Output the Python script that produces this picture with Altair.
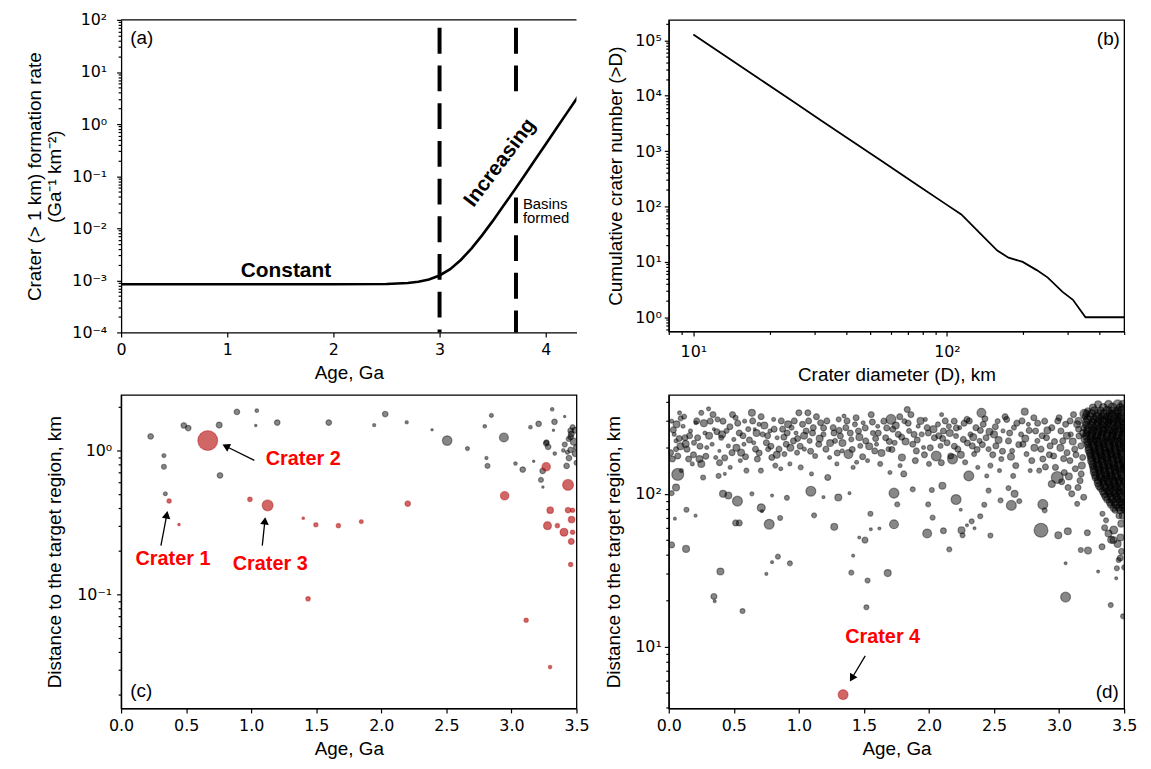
import altair as alt
import pandas as pd

# ---------------- Panel (a): crater formation rate ----------------
a_age = [0.0, 0.5, 1.0, 1.5, 2.0, 2.5, 2.7, 2.8, 2.9, 3.0, 3.1, 3.2, 3.3, 3.4, 3.5,
         3.6, 3.7, 3.8, 3.9, 4.0, 4.1, 4.2, 4.3, 4.4]
a_rate = [8.4e-4, 8.4e-4, 8.4e-4, 8.4e-4, 8.4e-4, 8.5e-4, 8.9e-4, 9.4e-4, 1.04e-3,
          1.24e-3, 1.64e-3, 2.46e-3, 4.07e-3, 7.3e-3, 1.37e-2, 2.66e-2, 5.2e-2,
          0.103, 0.206, 0.411, 0.82, 1.64, 3.27, 6.5]
a_dash_age = [3.0, 3.72]
a_dash_top = [100, 100]
a_dash_bot = [1e-4, 3.56]
a_dash2_age = [3.72]
a_dash2_top = [0.039]
a_dash2_bot = [1e-4]
a_lbl_text = ["Constant", "Increasing", "Basins", "formed", "(a)"]
a_lbl_age = [1.553, 3.571, 3.785, 3.785, 0.087]
a_lbl_rate = [1.52e-3, 0.181, 0.0287, 0.0155, 45]

# ---------------- Panel (b): cumulative crater number ----------------
b_diam = [10, 17.7, 24.5, 31.8, 41.3, 55.5, 76.9, 100, 114, 134, 158, 175, 199,
          226, 250, 285, 314, 352, 500]
b_num = [1.28e5, 2.2e4, 8.1e3, 3.6e3, 1.62e3, 653, 239, 107, 72, 34, 16, 11.9, 10,
         7.1, 5.2, 2.9, 2.07, 1, 1]

# ---------------- Panel (c): (age, distance km, marker radius) ----------------
c_gray = [
    (0.227, 1.25, 2.8), (0.329, 0.92, 2), (0.329, 0.77, 2.5), (0.34, 0.50, 2),
    (0.482, 1.49, 2.8), (0.516, 1.43, 2.8), (0.754, 1.50, 3), (0.76, 0.67, 2.8),
    (0.89, 1.85, 2.8), (1.035, 1.49, 1.2), (1.043, 1.89, 1.8), (1.2, 1.56, 2.8),
    (1.596, 1.56, 2.8), (1.945, 1.50, 1.6), (2.03, 1.79, 2.8), (2.195, 1.57, 1.6),
    (2.39, 1.39, 1.2), (2.506, 1.17, 4.8), (2.662, 1.03, 2), (2.846, 1.75, 2),
    (2.795, 1.47, 1.8), (2.942, 1.23, 4.5), (2.808, 0.885, 1.6), (2.816, 0.78, 2.5),
    (3.031, 0.81, 1.8), (3.087, 0.736, 2.8), (3.171, 0.84, 1.2), (3.146, 1.45, 1.8),
    (3.209, 1.53, 2.8), (3.313, 1.93, 1.8), (3.331, 1.58, 2.8), (3.323, 1.38, 1.2),
    (3.409, 1.72, 1.2), (3.455, 1.37, 2.8), (3.455, 1.24, 2.8), (3.267, 1.12, 2.8),
    (3.282, 1.06, 2.8), (3.333, 0.95, 1.8), (3.399, 1.0, 1.8), (3.455, 1.01, 2.8),
    (3.424, 0.78, 2.8), (3.442, 0.885, 2.8), (3.227, 0.624, 2.5), (3.242, 0.556, 1.2),
    (3.24, 0.72, 2.8), (3.46, 1.3, 3), (3.48, 1.15, 3.5), (3.5, 1.05, 3),
    (3.44, 1.2, 2.5), (3.49, 0.95, 3), (3.47, 1.45, 2.5), (3.43, 0.97, 2),
    (3.27, 1.14, 2.5), (3.49, 1.38, 3), (3.41, 1.1, 2.5), (3.5, 0.82, 2.5),
]
c_red = [
    (0.369, 0.445, 2.2), (0.445, 0.305, 1.3), (0.666, 1.17, 10), (0.99, 0.457, 2.3),
    (1.126, 0.415, 5.5), (1.40, 0.338, 1.3), (1.497, 0.304, 2.2), (1.67, 0.30, 2.2),
    (1.846, 0.32, 2), (2.203, 0.426, 2.8), (1.437, 0.093, 2.3), (3.113, 0.066, 2.2),
    (3.297, 0.0312, 1.8), (2.948, 0.484, 4.3), (3.267, 0.77, 4.3), (3.435, 0.576, 5.5),
    (3.298, 0.384, 3.3), (3.435, 0.384, 2.8), (3.47, 0.384, 2.2), (3.462, 0.331, 3.3),
    (3.277, 0.30, 4), (3.353, 0.30, 2.2), (3.404, 0.27, 4), (3.47, 0.27, 2.2),
    (3.46, 0.233, 3), (3.455, 0.161, 2.2),
]
c_lbl_text = ["Crater 1", "Crater 2", "Crater 3", "(c)"]
c_lbl_age = [0.399, 1.40, 1.146, 0.071]
c_lbl_dist = [0.177, 0.867, 0.161, 0.0214]
c_arrow_tail_age = [0.306, 1.024, 1.085]
c_arrow_tail_dist = [0.218, 0.853, 0.218]
c_arrow_head_age = [0.351, 0.805, 1.105]
c_arrow_head_dist = [0.357, 1.069, 0.324]
c_arrow_angle = [10.7, 296.3, 5.9]

# ---------------- Panel (d): (age, distance km, marker radius) ----------------
d_sparse = [
    (0.069, 134, 6), (0.056, 110, 3.5), (0.022, 101, 2.5), (0.022, 46.3, 3), (0.133, 43.6, 3.5),
    (0.136, 78.7, 2.5), (0.206, 72, 1.5), (0.047, 68.8, 1.5), (0.397, 31, 3.5), (0.347, 21.3, 3),
    (0.353, 19.8, 1.5), (0.567, 17.1, 2.5), (0.417, 100, 3.5), (0.458, 97.6, 3.5), (0.528, 89.6, 5),
    (0.514, 64.5, 3), (0.542, 64.5, 3), (0.639, 100, 2), (0.711, 81, 4), (0.716, 77, 1.5),
    (0.772, 63.2, 5), (0.794, 97.4, 1.5), (0.856, 69.5, 2.5), (0.839, 38.8, 2.5), (0.794, 35.7, 1.5),
    (0.931, 35.1, 2.5), (0.75, 29.9, 1.5), (0.908, 94.2, 2.5), (1.092, 104, 5), (1.117, 72.3, 2.5),
    (1.189, 95.1, 1.5), (1.303, 94.6, 3.5), (1.272, 60.8, 3.5), (1.389, 101, 1.5), (1.417, 39.4, 1.5),
    (1.403, 30.5, 2.5), (1.464, 51.8, 1.5), (1.508, 49.8, 3), (1.528, 27.1, 2.5), (1.519, 18.1, 2.5),
    (1.55, 74.1, 2.5), (1.553, 58.6, 1.5), (1.619, 59.3, 1.5), (1.683, 30.3, 3.5), (1.731, 63.2, 4.5),
    (1.731, 101, 5), (1.756, 85.3, 2.5), (1.875, 107, 2.5), (1.986, 55, 4.5), (1.994, 85.3, 2.5),
    (2.022, 106, 2.5), (2.028, 69.8, 2.5), (2.111, 57.3, 3), (2.156, 43.3, 2.5), (2.103, 113, 3.5),
    (2.208, 91.8, 5), (2.25, 57.8, 3.5), (2.258, 53.6, 2.5), (2.244, 78.7, 1.5), (2.292, 62.2, 1.5),
    (2.328, 66.1, 2.5), (2.35, 59.5, 1.5), (2.394, 71.3, 2.5), (2.425, 84.9, 2.5), (2.472, 53.4, 2.5),
    (2.458, 105, 2.5), (2.55, 90.6, 2.5), (2.633, 84, 5), (2.658, 100, 3.5), (2.694, 89.6, 2.5),
    (2.611, 109, 2.5), (2.861, 57.8, 7), (2.875, 85.3, 5), (2.889, 78, 2.5), (2.994, 53.6, 3.5),
    (3.067, 56.9, 3.5), (3.05, 35.1, 1.5), (3.05, 21.1, 5), (3.217, 55.6, 3), (3.167, 42.9, 2.5),
    (3.222, 42.5, 3.5), (3.3, 31, 1.5), (3.397, 18.7, 2.5), (3.492, 15.8, 2.5), (3.439, 28, 1.5),
    (3.444, 32.6, 2.5), (3.458, 36.9, 2.5), (3.417, 49.8, 3.5), (3.472, 51.8, 3.5), (3.361, 67.1, 2.5),
    (3.333, 74.1, 2.5), (3.478, 63.8, 3.5), (3.35, 60, 3), (3.38, 55, 3.5), (3.42, 58, 4),
    (3.45, 47, 3.5), (3.48, 42, 3), (3.47, 38, 3), (3.33, 45, 3), (3.40, 50, 3.5), (3.5, 33, 2.5),
]
d_band = [
    (0.014, 186, 3), (0.028, 169, 3), (0.056, 196, 2.5), (0.069, 177, 3), (0.083, 339, 2),
    (0.092, 312, 2.5), (0.042, 245, 2), (0.097, 142, 2), (0.056, 222, 2), (0.022, 299, 2),
    (0.11, 277, 2), (0.125, 233, 3), (0.14, 196, 3), (0.153, 169, 3), (0.167, 258, 2),
    (0.194, 216, 2.5), (0.181, 157, 2), (0.208, 292, 2),
    (0.222, 233, 3), (0.236, 169, 3.5), (0.25, 157, 3.5), (0.264, 128, 2.5), (0.25, 339, 2.5),
    (0.278, 250, 2), (0.292, 201, 2), (0.306, 360, 2),
    (0.319, 299, 3), (0.333, 211, 2), (0.361, 173, 2), (0.375, 307, 2.5), (0.383, 131, 2.5),
    (0.403, 233, 2.5), (0.347, 265, 1.5), (0.389, 191, 1.5),
    (0.417, 299, 3), (0.444, 258, 2.5), (0.458, 206, 2), (0.486, 186, 3), (0.5, 227, 2),
    (0.472, 149, 2), (0.514, 315, 2.5), (0.431, 135, 1.5),
    (0.542, 250, 3), (0.556, 186, 3.5), (0.578, 211, 2), (0.597, 142, 2.5), (0.611, 265, 2.5),
    (0.583, 299, 2), (0.55, 165, 2),
    (0.639, 339, 3.5), (0.653, 216, 2), (0.667, 196, 3), (0.681, 169, 3), (0.694, 285, 2),
    (0.708, 142, 2.5), (0.722, 245, 2.5), (0.661, 265, 1.5),
    (0.75, 216, 3), (0.764, 196, 2.5), (0.778, 258, 2), (0.792, 173, 3), (0.806, 307, 2),
    (0.819, 153, 2.5), (0.833, 233, 2),
    (0.847, 196, 3), (0.875, 265, 3), (0.889, 182, 2.5), (0.903, 211, 3), (0.917, 285, 3.5),
    (0.861, 146, 2), (0.931, 157, 2),
    (0.944, 271, 2.5), (0.958, 222, 3), (0.978, 250, 2), (1.0, 339, 3), (0.986, 186, 2.5),
    (1.014, 149, 2.5), (1.028, 285, 3),
    (1.069, 339, 3), (1.056, 258, 3), (1.083, 222, 2.5), (1.111, 271, 3), (1.125, 177, 2.5),
    (1.097, 135, 2), (1.042, 196, 2),
    (1.153, 211, 3), (1.167, 292, 3), (1.189, 245, 2.5), (1.208, 196, 3), (1.222, 128, 3),
    (1.236, 173, 2),
    (1.264, 271, 3), (1.278, 222, 2.5), (1.292, 157, 2), (1.306, 307, 2.5), (1.319, 239, 3),
    (1.333, 191, 2),
    (1.347, 323, 2), (1.361, 271, 3), (1.381, 182, 4.5), (1.403, 227, 2.5), (1.417, 149, 2),
    (1.431, 285, 2.5),
    (1.458, 258, 3), (1.472, 206, 2.5), (1.494, 292, 2), (1.514, 222, 3), (1.528, 165, 2),
    (1.444, 161, 2),
    (1.556, 330, 3), (1.569, 250, 2.5), (1.583, 191, 3), (1.606, 277, 2), (1.625, 157, 2.5),
    (1.597, 211, 2),
    (1.653, 299, 3), (1.667, 233, 3), (1.689, 196, 2.5), (1.708, 307, 5), (1.722, 265, 3),
    (1.7, 138, 2),
    (1.736, 216, 2.5), (1.764, 245, 3), (1.792, 173, 3.5), (1.806, 135, 3), (1.778, 153, 2),
    (1.811, 299, 2.5),
    (1.833, 356, 3), (1.861, 330, 3), (1.847, 258, 2.5), (1.875, 211, 3), (1.903, 191, 3),
    (1.917, 277, 2),
    (1.944, 245, 2.5), (1.958, 201, 2), (1.986, 271, 3), (2.0, 157, 2.5), (1.972, 307, 2),
    (2.042, 233, 3), (2.056, 177, 5), (2.069, 285, 2.5), (2.089, 206, 2.5), (2.111, 258, 3),
    (2.097, 330, 2),
    (2.139, 216, 3), (2.153, 277, 2.5), (2.167, 177, 3), (2.181, 169, 5), (2.194, 299, 3),
    (2.208, 239, 2.5),
    (2.222, 196, 3), (2.236, 271, 2), (2.264, 227, 3), (2.292, 307, 3), (2.306, 131, 5),
    (2.278, 161, 2.5),
    (2.319, 245, 2.5), (2.333, 206, 3), (2.347, 182, 2.5), (2.361, 271, 3), (2.375, 149, 2),
    (2.389, 222, 2.5),
    (2.403, 339, 4.5), (2.417, 285, 3), (2.439, 233, 3), (2.458, 196, 2.5), (2.472, 153, 2.5),
    (2.444, 131, 2),
    (2.5, 245, 3.5), (2.514, 206, 3), (2.528, 299, 2.5), (2.556, 169, 2.5), (2.569, 258, 2),
    (2.542, 142, 2),
    (2.597, 307, 3), (2.611, 222, 3), (2.639, 191, 2.5), (2.653, 271, 2.5), (2.667, 153, 3),
    (2.647, 131, 2.5),
    (2.736, 345, 3.5), (2.708, 245, 2.5), (2.722, 211, 3), (2.75, 182, 2.5), (2.764, 285, 2),
    (2.778, 142, 2),
    (2.806, 315, 3), (2.819, 258, 3), (2.833, 222, 2.5), (2.861, 196, 3), (2.875, 169, 3),
    (2.847, 142, 2.5),
    (2.889, 299, 3), (2.903, 233, 3), (2.931, 206, 3), (2.944, 271, 3), (2.958, 177, 3),
    (2.986, 128, 6), (2.944, 116, 3.5), (2.972, 149, 3),
    (3.0, 315, 3), (3.014, 258, 3), (3.028, 222, 3), (3.05, 285, 3), (3.061, 186, 3),
    (3.083, 165, 3), (3.069, 110, 3), (3.097, 100, 3), (3.04, 138, 3), (3.09, 245, 2.5),
    (3.111, 330, 3), (3.139, 285, 3.5), (3.153, 239, 3), (3.167, 206, 3), (3.181, 173, 3),
    (3.194, 334, 4.5), (3.125, 146, 3), (3.161, 122, 3), (3.189, 95, 3), (3.139, 86, 2.5),
    (3.12, 196, 3), (3.175, 153, 3.5), (3.15, 265, 3),
]
d_band_more = [
    (0.035, 262, 3), (0.06, 285, 3.5), (0.08, 230, 3), (0.09, 205, 3.5),
    (0.118, 320, 2.5), (0.13, 212, 3.5), (0.16, 240, 3), (0.19, 180, 3),
    (0.215, 300, 3), (0.24, 205, 3), (0.27, 290, 3.5), (0.285, 176, 3),
    (0.31, 240, 3.5), (0.34, 330, 3), (0.37, 255, 3), (0.39, 160, 3),
    (0.41, 245, 3.5), (0.43, 172, 3), (0.47, 275, 3), (0.49, 330, 3),
    (0.52, 200, 3.5), (0.53, 290, 3), (0.57, 240, 3), (0.59, 175, 3),
    (0.62, 225, 3), (0.645, 300, 3), (0.675, 250, 3.5), (0.695, 185, 3),
    (0.71, 320, 3), (0.735, 280, 3.5), (0.76, 240, 3), (0.785, 205, 3),
    (0.81, 265, 3), (0.83, 180, 3.5), (0.865, 300, 3), (0.885, 235, 3),
    (0.91, 250, 3), (0.935, 200, 3.5), (0.965, 300, 3), (0.99, 230, 3),
    (1.01, 205, 3), (1.04, 240, 3.5), (1.075, 300, 3), (1.09, 190, 3),
    (1.105, 250, 3), (1.135, 320, 3), (1.16, 230, 3.5), (1.19, 270, 3),
    (1.215, 300, 3), (1.24, 215, 3.5), (1.27, 250, 3), (1.295, 185, 3),
    (1.31, 260, 3), (1.335, 215, 3.5), (1.37, 300, 3), (1.395, 250, 3),
    (1.41, 195, 3), (1.44, 315, 3), (1.465, 235, 3.5), (1.49, 175, 3),
    (1.51, 270, 3), (1.54, 205, 3.5), (1.565, 295, 3), (1.59, 230, 3),
    (1.61, 250, 3), (1.635, 185, 3.5), (1.675, 270, 3), (1.695, 220, 3),
    (1.715, 195, 3), (1.745, 280, 3.5), (1.775, 320, 3), (1.79, 235, 3),
    (1.82, 220, 3.5), (1.84, 290, 3), (1.885, 245, 3), (1.895, 165, 3),
    (1.91, 225, 3), (1.935, 300, 3.5), (1.965, 180, 3), (1.995, 250, 3),
    (2.01, 200, 3), (2.035, 265, 3.5), (2.075, 240, 3), (2.095, 160, 3),
    (2.105, 230, 3), (2.125, 300, 3), (2.16, 250, 3.5), (2.195, 205, 3),
    (2.21, 270, 3), (2.245, 180, 3.5), (2.27, 290, 3), (2.295, 215, 3),
    (2.31, 300, 3), (2.34, 235, 3.5), (2.37, 195, 3), (2.395, 260, 3),
    (2.41, 210, 3), (2.43, 310, 3), (2.465, 255, 3.5), (2.49, 180, 3),
    (2.51, 275, 3), (2.535, 225, 3.5), (2.565, 190, 3), (2.585, 320, 3),
    (2.62, 250, 3), (2.63, 175, 3.5), (2.675, 290, 3), (2.69, 210, 3),
    (2.715, 300, 3), (2.74, 230, 3.5), (2.77, 260, 3), (2.79, 165, 3),
    (2.81, 200, 3.5), (2.835, 290, 3), (2.87, 240, 3), (2.895, 150, 3),
    (2.91, 260, 3.5), (2.925, 180, 3), (2.965, 220, 3), (2.99, 300, 3),
    (3.01, 200, 3.5), (3.035, 170, 3), (3.06, 240, 3.5), (3.085, 300, 3), (3.02, 120, 3),
    (3.075, 130, 3.5),
    (3.105, 220, 3.5), (3.13, 180, 3), (3.15, 300, 3.5), (3.17, 135, 3), (3.185, 250, 3.5),
    (3.145, 110, 3),
]
d_cluster = [
    (3.30, 385, 3.5), (3.38, 385, 4), (3.45, 385, 4.5), (3.49, 385, 4),
    (3.22, 350, 3), (3.27, 350, 4), (3.32, 350, 3.5), (3.37, 350, 4.5), (3.41, 350, 3.5),
    (3.45, 350, 4), (3.49, 350, 5),
    (3.20, 320, 3), (3.24, 320, 4), (3.29, 320, 4.5), (3.33, 320, 3.5), (3.37, 320, 4),
    (3.41, 320, 5), (3.45, 320, 3.5), (3.48, 320, 4),
    (3.21, 295, 4), (3.26, 295, 3.5), (3.30, 295, 4), (3.34, 295, 5), (3.38, 295, 3.5),
    (3.42, 295, 4), (3.46, 295, 4.5), (3.49, 295, 3.5),
    (3.19, 270, 3), (3.23, 270, 4.5), (3.27, 270, 3.5), (3.31, 270, 4), (3.35, 270, 4),
    (3.39, 270, 5), (3.43, 270, 3.5), (3.47, 270, 4), (3.50, 270, 4),
    (3.21, 248, 3.5), (3.25, 248, 4), (3.29, 248, 5), (3.33, 248, 3.5), (3.37, 248, 4),
    (3.41, 248, 4), (3.45, 248, 5), (3.49, 248, 3.5),
    (3.20, 228, 4), (3.24, 228, 3.5), (3.28, 228, 4), (3.32, 228, 4.5), (3.36, 228, 3.5),
    (3.40, 228, 4), (3.44, 228, 4.5), (3.48, 228, 4),
    (3.22, 210, 3.5), (3.26, 210, 4.5), (3.30, 210, 4), (3.34, 210, 3.5), (3.38, 210, 5),
    (3.42, 210, 4), (3.46, 210, 3.5), (3.50, 210, 4.5),
    (3.23, 193, 4), (3.27, 193, 3.5), (3.31, 193, 4.5), (3.35, 193, 4), (3.39, 193, 3.5),
    (3.43, 193, 4.5), (3.47, 193, 4),
    (3.24, 178, 3.5), (3.28, 178, 4), (3.32, 178, 3.5), (3.36, 178, 5), (3.40, 178, 4),
    (3.44, 178, 3.5), (3.48, 178, 4.5),
    (3.25, 164, 4), (3.29, 164, 3.5), (3.33, 164, 4), (3.37, 164, 4), (3.41, 164, 4.5),
    (3.45, 164, 3.5), (3.49, 164, 4),
    (3.26, 151, 3.5), (3.30, 151, 4.5), (3.34, 151, 4), (3.38, 151, 3.5), (3.42, 151, 4),
    (3.46, 151, 5), (3.50, 151, 3.5),
    (3.27, 139, 4), (3.31, 139, 3.5), (3.35, 139, 4.5), (3.39, 139, 4), (3.43, 139, 3.5),
    (3.47, 139, 4),
    (3.28, 128, 3.5), (3.32, 128, 4), (3.36, 128, 4), (3.40, 128, 4.5), (3.44, 128, 4),
    (3.48, 128, 3.5),
    (3.30, 118, 4), (3.34, 118, 3.5), (3.38, 118, 4), (3.42, 118, 4.5), (3.46, 118, 4),
    (3.50, 118, 4),
    (3.32, 109, 3.5), (3.36, 109, 4), (3.40, 109, 3.5), (3.44, 109, 4.5), (3.48, 109, 4),
    (3.35, 100, 4), (3.39, 100, 3.5), (3.43, 100, 4), (3.47, 100, 4.5),
    (3.37, 92, 3.5), (3.41, 92, 4), (3.45, 92, 3.5), (3.49, 92, 4),
    (3.40, 85, 3.5), (3.44, 85, 4), (3.48, 85, 3.5),
    (3.43, 78, 3), (3.47, 78, 3.5), (3.50, 78, 3),
    (3.46, 72, 3), (3.49, 72, 3.5),
]
d_cluster_more = [
    (3.26, 367, 3.5), (3.34, 367, 4), (3.41, 367, 4.5), (3.47, 367, 4),
    (3.21, 335, 3.5), (3.25, 335, 4), (3.30, 335, 4), (3.35, 335, 4.5), (3.39, 335, 4),
    (3.43, 335, 4), (3.47, 335, 4.5),
    (3.22, 307, 4), (3.27, 307, 4), (3.31, 307, 4.5), (3.35, 307, 4), (3.39, 307, 4),
    (3.43, 307, 4.5), (3.47, 307, 4),
    (3.21, 282, 4), (3.25, 282, 4), (3.29, 282, 4.5), (3.33, 282, 4), (3.37, 282, 4),
    (3.41, 282, 4.5), (3.45, 282, 4), (3.49, 282, 4),
    (3.22, 259, 4), (3.26, 259, 4.5), (3.30, 259, 4), (3.34, 259, 4), (3.38, 259, 4.5),
    (3.42, 259, 4), (3.46, 259, 4), (3.50, 259, 4),
    (3.21, 238, 4), (3.25, 238, 4), (3.29, 238, 4), (3.33, 238, 4.5), (3.37, 238, 4),
    (3.41, 238, 4), (3.45, 238, 4.5), (3.49, 238, 4),
    (3.22, 219, 4), (3.26, 219, 4), (3.30, 219, 4.5), (3.34, 219, 4), (3.38, 219, 4),
    (3.42, 219, 4.5), (3.46, 219, 4), (3.50, 219, 4),
    (3.23, 201, 4), (3.27, 201, 4.5), (3.31, 201, 4), (3.35, 201, 4), (3.39, 201, 4.5),
    (3.43, 201, 4), (3.47, 201, 4), (3.50, 201, 4),
    (3.24, 185, 4), (3.28, 185, 4), (3.32, 185, 4.5), (3.36, 185, 4), (3.40, 185, 4),
    (3.44, 185, 4.5), (3.48, 185, 4),
    (3.25, 171, 4), (3.29, 171, 4.5), (3.33, 171, 4), (3.37, 171, 4), (3.41, 171, 4),
    (3.45, 171, 4.5), (3.49, 171, 4),
    (3.26, 157, 4), (3.30, 157, 4), (3.34, 157, 4.5), (3.38, 157, 4), (3.42, 157, 4),
    (3.46, 157, 4), (3.50, 157, 4.5),
    (3.27, 145, 4), (3.31, 145, 4), (3.35, 145, 4), (3.39, 145, 4.5), (3.43, 145, 4),
    (3.47, 145, 4), (3.50, 145, 4),
    (3.28, 133, 4), (3.32, 133, 4.5), (3.36, 133, 4), (3.40, 133, 4), (3.44, 133, 4.5),
    (3.48, 133, 4),
    (3.30, 123, 4), (3.34, 123, 4), (3.38, 123, 4.5), (3.42, 123, 4), (3.46, 123, 4),
    (3.50, 123, 4),
    (3.31, 113, 4), (3.35, 113, 4.5), (3.39, 113, 4), (3.43, 113, 4), (3.47, 113, 4.5),
    (3.34, 104, 4), (3.38, 104, 4), (3.42, 104, 4.5), (3.46, 104, 4), (3.50, 104, 4),
    (3.36, 96, 4), (3.40, 96, 4), (3.44, 96, 4), (3.48, 96, 4),
    (3.39, 88, 3.5), (3.43, 88, 4), (3.47, 88, 4), (3.50, 88, 3.5),
    (3.42, 81, 3.5), (3.46, 81, 3.5), (3.49, 81, 3.5),
]
d_red = [(1.34, 4.85, 5)]
d_lbl_text = ["Crater 4", "(d)"]
d_lbl_age = [1.644, 3.458]
d_lbl_dist = [11.6, 5.08]
d_arrow_tail_age = [1.51]
d_arrow_tail_dist = [8.7]
d_arrow_head_age = [1.407]
d_arrow_head_dist = [6.21]
d_arrow_angle = [211]

# ---------------- helpers ----------------
SUP = str.maketrans("-0123456789", "⁻⁰¹²³⁴⁵⁶⁷⁸⁹")
DECADE = "abs(log(datum.value)/LN10 - round(log(datum.value)/LN10)) < 0.001"


def log_axis(title, exps, lo, hi, label_pad=4, title_pad=8, **kw):
    vals = []
    for e in range(exps[0] - 1, exps[-1] + 1):
        for m in range(1, 10):
            v = float(f"{m}e{e}")
            if lo <= v <= hi:
                vals.append(v)
    expr = "''"
    for e in exps:
        v = float(f"1e{e}")
        expr = f"abs(datum.value - {v!r}) < {v * 1e-3!r} ? '10{str(e).translate(SUP)}' : {expr}"
    return alt.Axis(title=title, values=vals, labelExpr=expr, labelOverlap=False,
                    labelFlush=False,
                    tickSize={"condition": {"test": DECADE, "value": 4.5}, "value": 3},
                    labelPadding=label_pad, titlePadding=title_pad, **kw)


def lin_axis(title, vals, fmt, label_pad=5, title_pad=6):
    return alt.Axis(title=title, values=vals, format=fmt, tickSize=4.5, labelFlush=False,
                    labelOverlap=False, labelPadding=label_pad, titlePadding=title_pad)


SIZE = alt.Size("r:Q", scale=alt.Scale(type="pow", exponent=2, domain=[0, 10], range=[0, 400]),
                legend=None)
GRAY = dict(fill="black", fillOpacity=0.47, stroke="black", strokeOpacity=0.4, strokeWidth=1.2,
            clip=True)
RED = dict(fill="#b00000", fillOpacity=0.6, stroke="#b00000", strokeOpacity=0.4, strokeWidth=1.2,
           clip=True)

# ---------------- Panel (a) ----------------
xa = alt.Scale(domain=[0, 4.29])
ya = alt.Scale(type="log", domain=[1e-4, 100])
df_a = pd.DataFrame({"age": a_age, "rate": a_rate})
df_dash = pd.DataFrame({"age": a_dash_age, "rate": a_dash_top, "rate2": a_dash_bot})
df_dash2 = pd.DataFrame({"age": a_dash2_age, "rate": a_dash2_top, "rate2": a_dash2_bot})
df_alab = pd.DataFrame({"age": a_lbl_age, "rate": a_lbl_rate, "t": a_lbl_text})

ax_a_x = lin_axis("Age, Ga", [0, 1, 2, 3, 4], "d")
ax_a_y = log_axis(["Crater (> 1 km) formation rate", "(Ga⁻¹ km⁻²)"], list(range(-4, 3)),
                  1e-4, 100, label_pad=10, title_pad=7)

XA = lambda: alt.X("age:Q", scale=xa)
YA = lambda: alt.Y("rate:Q", scale=ya)

a_line = alt.Chart(df_a).mark_line(color="black", strokeWidth=2.6, clip=True).encode(
    x=alt.X("age:Q", scale=xa, axis=ax_a_x), y=alt.Y("rate:Q", scale=ya, axis=ax_a_y))
a_dash = alt.Chart(df_dash).mark_rule(color="black", strokeWidth=4, strokeDash=[26, 12],
                                      strokeDashOffset=30).encode(x=XA(), y=YA(), y2="rate2:Q")
a_dash2 = alt.Chart(df_dash2).mark_rule(color="black", strokeWidth=4, strokeDash=[26, 12]).encode(
    x=XA(), y=YA(), y2="rate2:Q")
a_top = alt.Chart(pd.DataFrame({"k": [0]})).mark_rule(color="black", strokeWidth=1.3).encode(
    x=alt.value(0), x2=alt.value(459), y=alt.value(0))
a_const = alt.Chart(df_alab.iloc[[0]]).mark_text(
    font="Liberation Sans", fontSize=21, fontWeight="bold", color="black").encode(
    x=XA(), y=YA(), text="t:N")
a_incr = alt.Chart(df_alab.iloc[[1]]).mark_text(
    font="Liberation Sans", fontSize=21, fontWeight="bold", color="black", angle=307).encode(
    x=XA(), y=YA(), text="t:N")
a_basin = alt.Chart(df_alab.iloc[[2, 3]]).mark_text(
    font="Liberation Sans", fontSize=15, color="black", align="left").encode(
    x=XA(), y=YA(), text="t:N")
a_tag = alt.Chart(df_alab.iloc[[4]]).mark_text(
    font="Liberation Sans", fontSize=19, color="black", align="left").encode(
    x=XA(), y=YA(), text="t:N")

panel_a = alt.layer(a_line, a_dash, a_dash2, a_top, a_const, a_incr, a_basin, a_tag).properties(
    width=459, height=315, view=alt.ViewBackground(stroke="transparent"))

# ---------------- Panel (b) ----------------
xb = alt.Scale(type="log", domain=[8, 500])
yb = alt.Scale(type="log", domain=[0.555, 2.34e5])
df_b = pd.DataFrame({"d": b_diam, "n": b_num})
b_line = alt.Chart(df_b).mark_line(color="black", strokeWidth=1.8, clip=True).encode(
    x=alt.X("d:Q", scale=xb, axis=log_axis("Crater diameter (D), km", [1, 2], 8, 500,
                                            label_pad=8, title_pad=6)),
    y=alt.Y("n:Q", scale=yb, axis=log_axis("Cumulative crater number (>D)", list(range(0, 6)),
                                            0.555, 2.34e5, label_pad=3, title_pad=9)))
b_tag = alt.Chart(pd.DataFrame({"d": [481], "n": [1.05e5], "t": ["(b)"]})).mark_text(
    font="Liberation Sans", fontSize=19, color="black", align="right").encode(
    x=alt.X("d:Q", scale=xb), y=alt.Y("n:Q", scale=yb), text="t:N")
panel_b = alt.layer(b_line, b_tag).properties(width=459, height=314)

# ---------------- Panel (c) ----------------
xc = alt.Scale(domain=[0, 3.5])
yc = alt.Scale(type="log", domain=[0.0161, 2.43])
XC = lambda: alt.X("age:Q", scale=xc)
YC = lambda: alt.Y("dist:Q", scale=yc)
df_cg = pd.DataFrame(c_gray, columns=["age", "dist", "r"])
df_cr = pd.DataFrame(c_red, columns=["age", "dist", "r"])
df_clab = pd.DataFrame({"age": c_lbl_age, "dist": c_lbl_dist, "t": c_lbl_text})
df_carr = pd.DataFrame({
    "id": [0, 1, 2, 0, 1, 2],
    "age": c_arrow_tail_age + c_arrow_head_age,
    "dist": c_arrow_tail_dist + c_arrow_head_dist,
})
df_chead = pd.DataFrame({"age": c_arrow_head_age, "dist": c_arrow_head_dist, "ang": c_arrow_angle})

c_gray_pts = alt.Chart(df_cg).mark_circle(**GRAY).encode(
    x=alt.X("age:Q", scale=xc, axis=lin_axis("Age, Ga", [0, 0.5, 1, 1.5, 2, 2.5, 3, 3.5], ".1f")),
    y=alt.Y("dist:Q", scale=yc, axis=log_axis("Distance to the target region, km", [-1, 0],
                                               0.0161, 2.43, label_pad=5, title_pad=12)),
    size=SIZE)
c_red_pts = alt.Chart(df_cr).mark_circle(**RED).encode(x=XC(), y=YC(), size=SIZE)
c_arrows = alt.Chart(df_carr).mark_line(color="black", strokeWidth=1.3).encode(
    x=XC(), y=YC(), detail="id:N")
c_heads = alt.Chart(df_chead).mark_point(shape="triangle-up", filled=True, color="black",
                                         size=75, opacity=1).encode(
    x=XC(), y=YC(), angle=alt.Angle("ang:Q", scale=alt.Scale(domain=[0, 360], range=[0, 360])))
c_texts = alt.Chart(df_clab.iloc[[0, 1, 2]]).mark_text(
    font="Liberation Sans", fontSize=20, fontWeight="bold", color="#ff0000").encode(
    x=XC(), y=YC(), text="t:N")
c_tag = alt.Chart(df_clab.iloc[[3]]).mark_text(
    font="Liberation Sans", fontSize=19, color="black", align="left").encode(
    x=XC(), y=YC(), text="t:N")
panel_c = alt.layer(c_gray_pts, c_red_pts, c_arrows, c_heads, c_texts, c_tag).properties(
    width=459, height=316)

# ---------------- Panel (d) ----------------
xd = alt.Scale(domain=[0, 3.5])
yd = alt.Scale(type="log", domain=[3.94, 444])
XD = lambda: alt.X("age:Q", scale=xd)
YD = lambda: alt.Y("dist:Q", scale=yd)
df_dg = pd.DataFrame(d_band + d_band_more + d_cluster + d_cluster_more + d_sparse,
                     columns=["age", "dist", "r"])
df_dr = pd.DataFrame(d_red, columns=["age", "dist", "r"])
df_dlab = pd.DataFrame({"age": d_lbl_age, "dist": d_lbl_dist, "t": d_lbl_text})
df_darr = pd.DataFrame({"id": [0, 0], "age": d_arrow_tail_age + d_arrow_head_age,
                        "dist": d_arrow_tail_dist + d_arrow_head_dist})
df_dhead = pd.DataFrame({"age": d_arrow_head_age, "dist": d_arrow_head_dist, "ang": d_arrow_angle})

d_gray_pts = alt.Chart(df_dg).mark_circle(**GRAY).encode(
    x=alt.X("age:Q", scale=xd, axis=lin_axis("Age, Ga", [0, 0.5, 1, 1.5, 2, 2.5, 3, 3.5], ".1f")),
    y=alt.Y("dist:Q", scale=yd, axis=log_axis("Distance to the target region, km", [1, 2],
                                               3.94, 444, label_pad=3, title_pad=11)),
    size=SIZE)
d_red_pts = alt.Chart(df_dr).mark_circle(**RED).encode(x=XD(), y=YD(), size=SIZE)
d_arrows = alt.Chart(df_darr).mark_line(color="black", strokeWidth=1.3).encode(
    x=XD(), y=YD(), detail="id:N")
d_heads = alt.Chart(df_dhead).mark_point(shape="triangle-up", filled=True, color="black",
                                         size=75, opacity=1).encode(
    x=XD(), y=YD(), angle=alt.Angle("ang:Q", scale=alt.Scale(domain=[0, 360], range=[0, 360])))
d_texts = alt.Chart(df_dlab.iloc[[0]]).mark_text(
    font="Liberation Sans", fontSize=20, fontWeight="bold", color="#ff0000").encode(
    x=XD(), y=YD(), text="t:N")
d_tag = alt.Chart(df_dlab.iloc[[1]]).mark_text(
    font="Liberation Sans", fontSize=19, color="black", align="right").encode(
    x=XD(), y=YD(), text="t:N")
panel_d = alt.layer(d_gray_pts, d_red_pts, d_arrows, d_heads, d_texts, d_tag).properties(
    width=459, height=316)

# ---------------- layout ----------------
chart = alt.concat(
    panel_a, panel_b, panel_c, panel_d,
    columns=2, spacing={"row": 63, "column": 93}, bounds="flush",
).properties(
    padding={"left": 16, "top": 0, "right": 5, "bottom": 0},
    background="white",
).configure_view(
    stroke="black", strokeWidth=1.3
).configure_axis(
    grid=False, domainColor="black", domainWidth=1.3, tickColor="black", tickWidth=1.2,
    labelColor="black", titleColor="black", labelFont="DejaVu Sans", labelFontSize=16,
    titleFont="Liberation Sans", titleFontSize=19, titleFontWeight="normal",
)

chart.save("out.html", embed_options={"renderer": "svg", "actions": False})
